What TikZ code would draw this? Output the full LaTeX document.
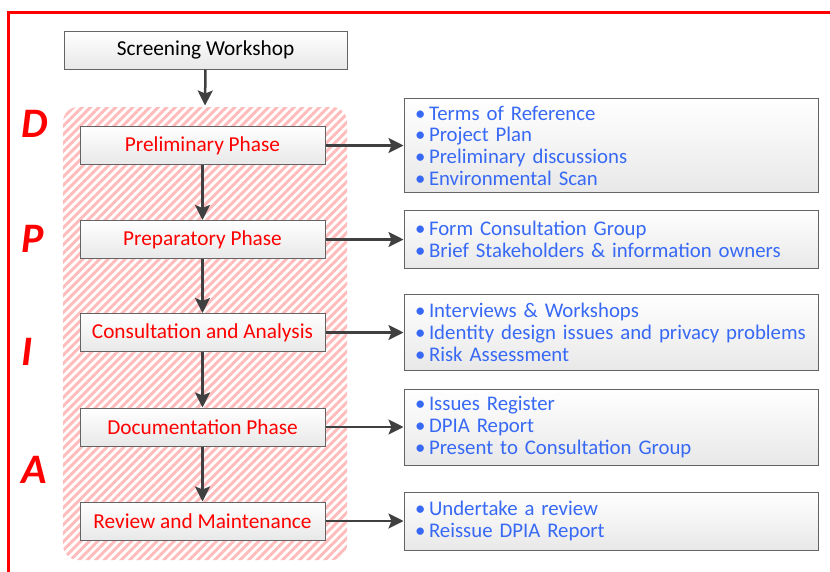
\documentclass[tikz,border=0pt]{standalone}
\usepackage{fontspec}
\setmainfont{Carlito}
\usetikzlibrary{arrows.meta,patterns.meta,positioning}
\definecolor{itemblue}{RGB}{55,105,245}
\definecolor{arrowgray}{RGB}{64,64,64}
\definecolor{boxline}{RGB}{100,100,100}
\definecolor{stripe}{RGB}{255,188,188}
\tikzset{
  phasebox/.style={draw=boxline,line width=1pt,top color=white,bottom color=black!9,
    minimum width=245pt,minimum height=38pt,inner sep=0pt,text=red,
    font=\fontsize{21.3}{25}\selectfont},
  outbox/.style={draw=boxline,line width=1pt,top color=white,bottom color=black!9,
    minimum width=414pt,text width=400pt,align=left,inner xsep=7pt,inner ysep=0pt,
    text=itemblue,font=\fontsize{20.8}{21.7}\selectfont},
  flow/.style={draw=arrowgray,line width=2.5pt,-{Stealth[length=15pt,width=15pt,inset=3pt]}},
  letter/.style={text=red,font=\fontsize{42}{42}\selectfont\bfseries\itshape,anchor=west,inner sep=0pt}
}
\newcommand{\itm}{\hspace*{4pt}\makebox[14pt][l]{\textbullet}}
\begin{document}
\begin{tikzpicture}[x=1pt,y=-1pt]
  \useasboundingbox (0,0) rectangle (830,571);
  % frame
  \draw[red,line width=3pt] (8.5,575) -- (8.5,12) -- (834,12);
  % hatched background
  \node[pattern={Lines[angle=45,distance=6pt,line width=3pt]},pattern color=stripe,
    rounded corners=15pt,minimum width=284pt,minimum height=453pt,inner sep=0pt] (bg) at (205,333.5) {};
  % letters
  \node[letter] (d) at (21,124) {D};
  \node[letter] (p) at (21,239) {P};
  \node[letter] (i) at (21,352) {I};
  \node[letter] (a) at (21,470) {A};
  % phases
  \node[phasebox,text=black,minimum width=283pt] (sw) at (205.5,50) {Screening Workshop};
  \node[phasebox] (pre) at (202.5,145.5) {Preliminary Phase};
  \node[phasebox] (prep) at (202.5,239.5) {Preparatory Phase};
  \node[phasebox] (cons) at (202.5,332.5) {Consultation and Analysis};
  \node[phasebox] (doc) at (202.5,427) {Documentation Phase};
  \node[phasebox] (rev) at (202.5,521) {Review and Maintenance};
  % outputs
  \node[outbox,minimum height=94pt] (o1) at (611,145.5) {\itm Terms of Reference\\ \itm Project Plan\\ \itm Preliminary discussions\\ \itm Environmental Scan};
  \node[outbox,minimum height=58pt] (o2) at (611,239.5) {\itm Form Consultation Group\\ \itm Brief Stakeholders \& information owners};
  \node[outbox,minimum height=76pt] (o3) at (611,332.5) {\itm Interviews \& Workshops\\ \itm Identity design issues and privacy problems\\ \itm Risk Assessment};
  \node[outbox,minimum height=76pt] (o4) at (611,427) {\itm Issues Register\\ \itm DPIA Report\\ \itm Present to Consultation Group};
  \node[outbox,minimum height=58pt] (o5) at (611,521) {\itm Undertake a review\\ \itm Reissue DPIA Report};
  % arrows
  \foreach \a/\b in {sw/bg,pre/prep,prep/cons,cons/doc,doc/rev}
    \draw[flow] (\a.south) -- (\b.north);
  \foreach \p/\o in {pre/o1,prep/o2,cons/o3,doc/o4,rev/o5}
    \draw[flow] (\p.east) -- (\o.west);
\end{tikzpicture}
\end{document}
